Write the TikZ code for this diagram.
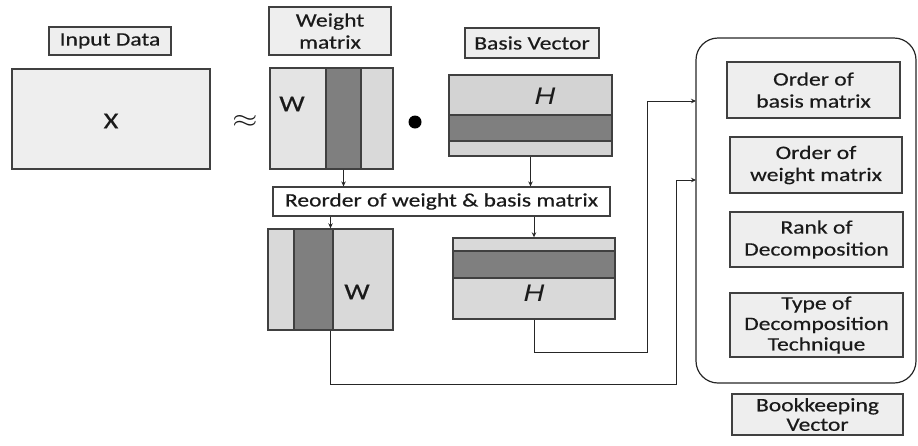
\documentclass[tikz,border=0pt]{standalone}
\usepackage{fontspec}
\setmainfont{Carlito}[FakeStretch=1.24, FakeBold=0.4]
\newfontfamily\hfont{Liberation Sans}[FakeStretch=1.2]
\usetikzlibrary{arrows.meta}
\definecolor{edgec}{HTML}{404040}
\definecolor{lblfill}{HTML}{EEEEEE}
\definecolor{lightA}{HTML}{E4E4E4}
\definecolor{lightB}{HTML}{D9D9D9}
\definecolor{lightH}{HTML}{D3D3D3}
\definecolor{darkc}{HTML}{7F7F7F}
\definecolor{txtc}{HTML}{1A1A1A}
\begin{document}
\begin{tikzpicture}[x=1pt,y=-1pt,
  txt/.style={font=\fontsize{19}{22}\selectfont, text=txtc},
  big/.style={font=\fontsize{23}{23}\selectfont, text=txtc},
  hlab/.style={font=\hfont\itshape\fontsize{24}{24}\selectfont, text=txtc},
  lbl/.style={txt, draw=edgec, line width=1.2pt, fill=lblfill, inner sep=0pt, align=center},
  part/.style={draw=edgec, line width=1.2pt},
  outline/.style={draw=edgec, line width=1.4pt, inner sep=0pt},
  arr/.style={draw=black!85, line width=1pt, -{Stealth[length=5pt,width=4.5pt]}}]
\useasboundingbox (0,0) rectangle (918,445);

% labels
\node[lbl, minimum width=122pt, minimum height=28pt] (inlab) at (110,41) {Input Data};
\node[lbl, minimum width=122pt, minimum height=48pt] (wlab) at (330,31) {Weight\\matrix};
\node[lbl, minimum width=134pt, minimum height=30pt] (bvlab) at (532,43) {Basis Vector};

% X
\node[draw=edgec, line width=1.2pt, fill=lblfill, inner sep=0pt, minimum width=198pt, minimum height=100pt] (X) at (111,119) {};
\node[big] (Xlab) at (111,121) {X};
\node[txt, font=\fontsize{26}{26}\selectfont] (approx) at (245,121) {\scalebox{1.3}[1]{$\approx$}};

% W top
\filldraw[part, fill=lightA] (270,68) rectangle (326,169);
\filldraw[part, fill=lightB] (361,68) rectangle (393,169);
\node[part, fill=darkc, minimum width=35pt, minimum height=101pt, inner sep=0pt] (Wdark) at (343.5,118.5) {};
\node[outline, minimum width=123pt, minimum height=101pt] (W) at (331.5,118.5) {};
\node[big] (Wlab) at (292,104) {W};

% bullet
\node[circle, fill=black, minimum size=13pt, inner sep=0pt] (dot) at (415,122) {};

% H top
\filldraw[part, fill=lightH] (449,75) rectangle (612,156);
\node[part, fill=darkc, minimum width=163pt, minimum height=26pt, inner sep=0pt] (Hdark) at (530.5,128) {};
\node[outline, minimum width=163pt, minimum height=81pt] (H) at (530.5,115.5) {};
\node[hlab] (Hlab) at (545,96) {H};

% reorder
\node[txt, draw=edgec, line width=1.2pt, fill=white, inner sep=0pt, minimum width=337pt, minimum height=29pt] (reorder) at (441.5,201.5) {Reorder of weight \& basis matrix};

% W bottom
\filldraw[part, fill=lightB] (268,229) rectangle (393,330);
\node[part, fill=darkc, minimum width=39pt, minimum height=101pt, inner sep=0pt] (W2dark) at (313.5,279.5) {};
\node[outline, minimum width=125pt, minimum height=101pt] (W2) at (330.5,279.5) {};
\node[big] (W2lab) at (357,292) {W};

% H bottom
\filldraw[part, fill=lightB] (453,238) rectangle (615,319);
\node[part, fill=darkc, minimum width=162pt, minimum height=27pt, inner sep=0pt] (H2dark) at (534,264.5) {};
\node[outline, minimum width=162pt, minimum height=81pt] (H2) at (534,278.5) {};
\node[hlab] (H2lab) at (534,293) {H};

% bookkeeping container
\draw[draw=black!85, line width=1.2pt, rounded corners=22pt] (696,38) rectangle (916,383);
\coordinate (bigtop) at (696,101);
\coordinate (bigmid) at (696,180);
\node[lbl, minimum width=173pt, minimum height=56pt] (ob) at (813.5,90) {Order of\\basis matrix};
\node[lbl, minimum width=172pt, minimum height=56pt] (ow) at (816,165) {Order of\\weight matrix};
\node[lbl, minimum width=173pt, minimum height=55pt] (rk) at (816.5,239.5) {Rank of\\Decomposition};
\node[lbl, minimum width=173pt, minimum height=64pt, font=\fontsize{19}{20.5}\selectfont] (ty) at (816.5,325) {Type of\\Decomposition\\Technique};
\node[lbl, minimum width=171pt, minimum height=41pt, font=\fontsize{19}{19.5}\selectfont] (bk) at (817.5,414.5) {Bookkeeping\\Vector};

% connectors
\draw[arr] (Wdark.south) -- (Wdark.south |- reorder.north);
\draw[arr] (H.south) -- (H.south |- reorder.north);
\draw[arr] (reorder.south -| W2.north) -- (W2.north);
\draw[arr] (reorder.south -| H2.north) -- (H2.north);
\coordinate (hturn) at (647,352);
\coordinate (wturn) at (676,384);
\draw[arr] (H2.south) |- (hturn) |- (bigtop);
\draw[arr] (W2.south) |- (wturn) |- (bigmid);
\end{tikzpicture}
\end{document}
